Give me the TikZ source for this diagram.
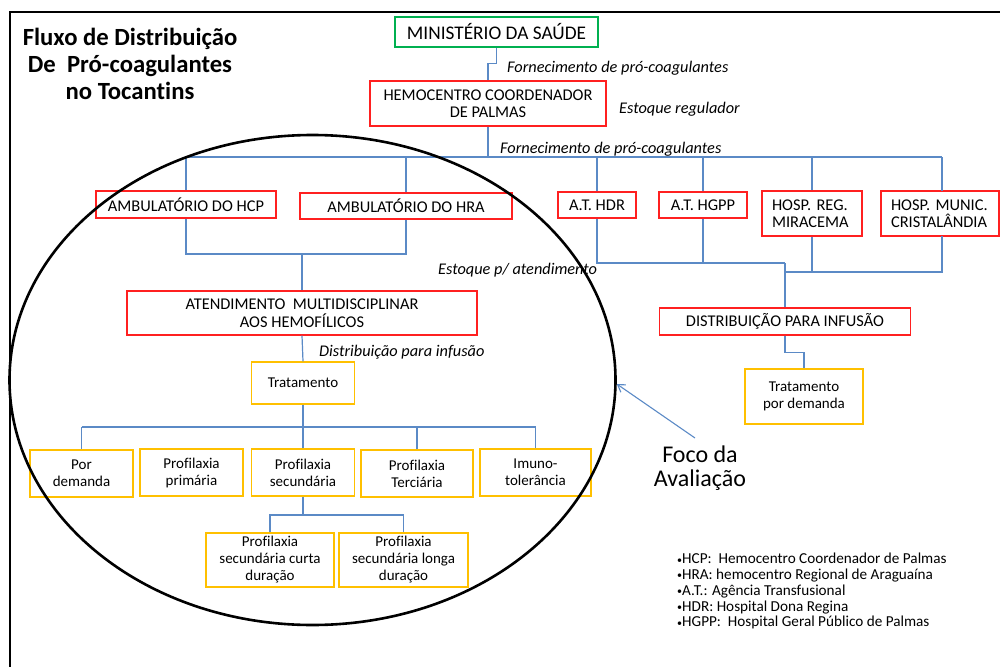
\documentclass[tikz,border=0pt]{standalone}
\usepackage{fontspec}
\setmainfont{Carlito}[Ligatures=NoCommon]
\usetikzlibrary{shapes.geometric,arrows.meta}
\definecolor{boxred}{HTML}{FF2020}
\definecolor{boxgreen}{HTML}{00B050}
\definecolor{boxyel}{HTML}{FFC000}
\definecolor{lineblue}{HTML}{5B8AC6}
\tikzset{
  box/.style={draw, line width=1.3pt, inner sep=0pt, align=center, font=\fontsize{16.4}{17.5}\selectfont},
  redbox/.style={box, draw=boxred},
  greenbox/.style={box, draw=boxgreen},
  yelbox/.style={box, draw=boxyel, font=\fontsize{15}{17}\selectfont},
  conn/.style={draw=lineblue, line width=1.2pt},
  lbl/.style={font=\fontsize{16.3}{18}\selectfont\itshape, anchor=west, inner sep=0pt},
}
\newcommand{\bul}{{\fontsize{10}{10}\selectfont\raisebox{0.15ex}{•}}}
\begin{document}
\begin{tikzpicture}[x=1pt,y=-1pt]
\useasboundingbox (0,0) rectangle (1000,666);
% frame
\draw[line width=2.6pt] (10,670) -- (10,12) -- (1003,12);
% title
\node[font=\fontsize{24.7}{27}\selectfont\bfseries, align=center, inner sep=0pt] (title) at (130,64)
  {Fluxo de Distribuição\\De\ \ Pró-coagulantes\\no Tocantins};
% top
\node[greenbox, minimum width=203, minimum height=30, font=\fontsize{19.3}{21}\selectfont] (ms) at (496.5,32) {MINISTÉRIO DA SAÚDE};
\node[redbox, minimum width=236, minimum height=45] (hem) at (488,103.5) {HEMOCENTRO COORDENADOR\\DE PALMAS};
% level 2
\node[redbox, minimum width=180, minimum height=27] (hcp) at (186,204.5) {AMBULATÓRIO DO HCP};
\node[redbox, minimum width=212, minimum height=26] (hra) at (406,206) {AMBULATÓRIO DO HRA};
\node[redbox, minimum width=78, minimum height=26] (hdr) at (597,205) {A.T. HDR};
\node[redbox, minimum width=88, minimum height=26] (hgpp) at (703,205) {A.T. HGPP};
\node[redbox, minimum width=100, minimum height=45, text width=80, align=left] (mir) at (812,213.5) {HOSP. REG.\\MIRACEMA};
\node[redbox, minimum width=118, minimum height=45, text width=98, align=left] (cris) at (940,213.5) {HOSP. MUNIC.\\CRISTALÂNDIA};
% level 3
\node[redbox, minimum width=350, minimum height=44] (atend) at (302,313) {ATENDIMENTO\ \ MULTIDISCIPLINAR\\AOS HEMOFÍLICOS};
\node[redbox, minimum width=251, minimum height=27] (dist) at (785,321.5) {DISTRIBUIÇÃO PARA INFUSÃO};
\node[yelbox, minimum width=118, minimum height=55] (tpd) at (804,396.5) {Tratamento\\por demanda};
\node[yelbox, minimum width=103, minimum height=42] (trat) at (303,383) {Tratamento};
% level 4
\node[yelbox, minimum width=103, minimum height=47] (pd) at (81.5,473.5) {Por\\demanda};
\node[yelbox, minimum width=103, minimum height=47] (pp) at (191.5,472.5) {Profilaxia\\primária};
\node[yelbox, minimum width=103, minimum height=47] (ps) at (303,472.5) {Profilaxia\\secundária};
\node[yelbox, minimum width=112, minimum height=47] (pt) at (417,473.5) {Profilaxia\\Terciária};
\node[yelbox, minimum width=111, minimum height=47] (imu) at (535.5,472.5) {Imuno-\\tolerância};
\node[yelbox, minimum width=128, minimum height=54] (curta) at (270,560) {Profilaxia\\secundária curta\\duração};
\node[yelbox, minimum width=129, minimum height=54] (longa) at (403.5,560) {Profilaxia\\secundária longa\\duração};
% labels
\node[lbl] (l1) at (507,68) {Fornecimento de pró-coagulantes};
\node[lbl] (l2) at (619,109) {Estoque regulador};
\node[lbl] (l3) at (500,149) {Fornecimento de pró-coagulantes};
\node[lbl] (l4) at (438,270) {Estoque p/ atendimento};
\node[lbl] (l5) at (319,352) {Distribuição para infusão};
% connectors
\coordinate (busA) at (0,157);
\coordinate (busB) at (0,427);
\draw[conn] (ms.south) -- ++(0,16) -| (hem.north);
\draw[conn, line width=1.6pt] (hem.south) -- (hem.south |- busA);
\draw[conn] (hcp.north |- busA) -- (942,157);
\foreach \n in {hcp,hra,hdr,hgpp,mir} \draw[conn] (\n.north) -- (\n.north |- busA);
\draw[conn] (942,157) -- (942,191);
\coordinate (jA) at (302,254);
\draw[conn] (hcp.south) |- (jA) -| (hra.south);
\draw[conn, line width=1.6pt] (jA) -- (atend.north);
\coordinate (jB) at (785,263);
\coordinate (jC) at (785,272);
\draw[conn] (hdr.south) |- (jB);
\draw[conn] (hgpp.south) |- (jB);
\draw[conn] (mir.south) |- (jC);
\draw[conn] (942,236) |- (jC);
\draw[conn, line width=1.6pt] (jB) -- (dist.north);
\draw[conn] (dist.south) -- ++(0,17) -| (tpd.north);
\draw[conn] (atend.south) -- (trat.north);
\draw[conn] (trat.south) -- (trat.south |- busB);
\draw[conn] (pd.north |- busB) -- (imu.north |- busB);
\foreach \n in {pd,ps,pt,imu} \draw[conn] (\n.north) -- (\n.north |- busB);
\coordinate (jD) at (303,515);
\draw[conn] (ps.south) -- (jD);
\draw[conn] (curta.north) |- (longa.north |- jD) -- (longa.north);
% focus ellipse
\node[ellipse, draw, line width=2.6pt, minimum width=606, minimum height=490, inner sep=0pt] (focus) at (312.5,380) {};
\node[font=\fontsize{24}{23.5}\selectfont, align=center, inner sep=0pt] (foco) at (700,468) {Foco da\\Avaliação};
\coordinate (arrS) at (695,438);
\draw[draw=lineblue, line width=1.1pt, -{Straight Barb[length=7pt,width=9pt]}] (arrS) -- ([yshift=-4pt]focus.east);
% legend
\node[anchor=north west, align=left, inner sep=0pt, font=\fontsize{15.2}{15.8}\selectfont] (legend) at (677,553)
  {\bul HCP:\ \ Hemocentro Coordenador de Palmas\\
   \bul HRA: hemocentro Regional de Araguaína\\
   \bul A.T.: Agência Transfusional\\
   \bul HDR: Hospital Dona Regina\\
   \bul HGPP:\ \ Hospital Geral Público de Palmas};
\end{tikzpicture}
\end{document}
